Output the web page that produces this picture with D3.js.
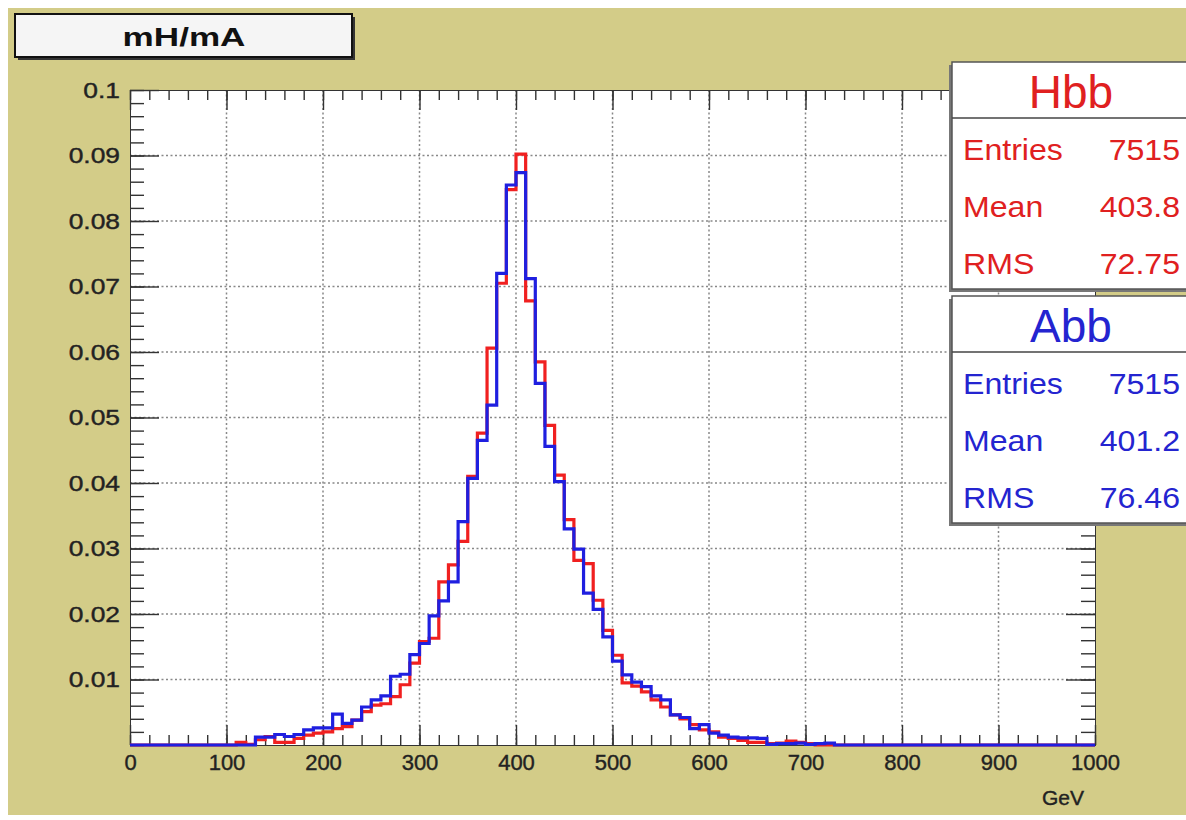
<html>
  <head>
    <script src="https://d3js.org/d3.v7.min.js"></script>
    <style>
      body { margin: 0; background: #fff; }
      text { font-family: "Liberation Sans", Arial, sans-serif; }
    </style>
  </head>
  <body>
    <div id="dataviz"></div>
    <script>
      // 10 GeV bins, lower edges 0..990
      var binEdges = d3.range(0, 1000, 10);

      // Hbb (red), bins 0-10 ... 990-1000
      var hbbValues = [
        0, 0, 0, 0, 0, 0, 0, 0, 0, 0,
        0, 0.0004, 0.0001, 0.0008, 0.0013, 0.0004, 0.0004, 0.0010, 0.0015, 0.0018,
        0.0020, 0.0025, 0.0028, 0.0038, 0.0051, 0.0061, 0.0063, 0.0074, 0.0092, 0.0125,
        0.0158, 0.0163, 0.0249, 0.0275, 0.0311, 0.0410, 0.0476, 0.0606, 0.0705, 0.0848,
        0.0902, 0.0678, 0.0585, 0.0488, 0.0412, 0.0344, 0.0282, 0.0277, 0.0221, 0.0175,
        0.0137, 0.0095, 0.0090, 0.0081, 0.0069, 0.0058, 0.0046, 0.0040, 0.0031, 0.0023,
        0.0020, 0.0012, 0.0010, 0.0007, 0.0004, 0.0004, 0.0002, 0.0003, 0.0006, 0.0004,
        0.0002, 0, 0, 0, 0, 0, 0, 0, 0, 0,
        0, 0, 0, 0, 0, 0, 0, 0, 0, 0,
        0, 0, 0, 0, 0, 0, 0, 0, 0, 0
      ];

      // Abb (blue)
      var abbValues = [
        0, 0, 0, 0, 0, 0, 0, 0, 0, 0,
        0, 0, 0, 0.0012, 0.0012, 0.0016, 0.0013, 0.0016, 0.0023, 0.0026,
        0.0026, 0.0047, 0.0033, 0.0038, 0.0058, 0.0069, 0.0075, 0.0105, 0.0108, 0.0138,
        0.0155, 0.0197, 0.0220, 0.0249, 0.0341, 0.0407, 0.0465, 0.0519, 0.0720, 0.0855,
        0.0874, 0.0712, 0.0552, 0.0456, 0.0402, 0.0330, 0.0299, 0.0232, 0.0207, 0.0165,
        0.0128, 0.0107, 0.0096, 0.0089, 0.0075, 0.0069, 0.0046, 0.0042, 0.0025, 0.0031,
        0.0018, 0.0015, 0.0012, 0.0011, 0.0011, 0.0010, 0.0001, 0.0002, 0.0002, 0.0003,
        0.0001, 0.0002, 0.0003, 0, 0, 0, 0, 0, 0, 0,
        0, 0, 0, 0, 0, 0, 0, 0, 0, 0,
        0, 0, 0, 0, 0, 0, 0, 0, 0, 0
      ];

      var xTicks = [0, 100, 200, 300, 400, 500, 600, 700, 800, 900, 1000];
      var xTickLabels = ["0", "100", "200", "300", "400", "500", "600", "700", "800", "900", "1000"];
      var yTicks = [0.01, 0.02, 0.03, 0.04, 0.05, 0.06, 0.07, 0.08, 0.09, 0.1];
      var yTickLabels = ["0.01", "0.02", "0.03", "0.04", "0.05", "0.06", "0.07", "0.08", "0.09", "0.1"];

      var statNames = ["Entries", "Mean", "RMS"];
      var hbbStats = ["7515", "403.8", "72.75"];
      var abbStats = ["7515", "401.2", "76.46"];

      var W = 1186, H = 820;
      var margin = {top: 90, right: 91, bottom: 75, left: 130};
      var width = W - margin.left - margin.right,
          height = H - margin.top - margin.bottom;

      var svg = d3.select("#dataviz")
        .append("svg")
          .attr("width", W)
          .attr("height", H);

      // canvas background
      svg.append("rect")
        .attr("x", 8).attr("y", 8)
        .attr("width", W - 8).attr("height", H - 13)
        .attr("fill", "#d3cc88");

      var x = d3.scaleLinear().domain([0, 1000]).range([0, width]);
      var y = d3.scaleLinear().domain([0, 0.1]).range([height, 0]);

      var g = svg.append("g")
        .attr("transform", "translate(" + margin.left + "," + margin.top + ")");

      g.append("rect")
        .attr("width", width).attr("height", height)
        .attr("fill", "#fff");

      // grid
      g.append("g").selectAll("line")
        .data(xTicks.slice(1, -1))
        .enter().append("line")
          .attr("x1", d => x(d)).attr("x2", d => x(d))
          .attr("y1", 0).attr("y2", height)
          .attr("stroke", "#888").attr("stroke-width", 1.5)
          .attr("stroke-dasharray", "2,2.5");
      g.append("g").selectAll("line")
        .data(yTicks.slice(0, -1))
        .enter().append("line")
          .attr("x1", 0).attr("x2", width)
          .attr("y1", d => y(d)).attr("y2", d => y(d))
          .attr("stroke", "#888").attr("stroke-width", 1.5)
          .attr("stroke-dasharray", "2,2.5");

      function styleAxis(sel) {
        sel.select(".domain").attr("stroke", "#333");
        sel.selectAll(".tick line").attr("stroke", "#333").attr("stroke-width", 1.4);
        sel.selectAll("text")
          .attr("fill", "#222")
          .attr("stroke", "#222")
          .attr("stroke-width", 0.4)
          .style("font-size", "22px");
      }

      var xMinor = d3.range(0, 1001, 20);
      var yMinor = d3.range(0, 0.1001, 0.002);

      // bottom axis
      g.append("g")
        .attr("transform", "translate(0," + height + ")")
        .call(d3.axisBottom(x).tickValues(xMinor).tickSize(-10).tickFormat(""))
        .call(styleAxis);
      g.append("g")
        .attr("transform", "translate(0," + height + ")")
        .call(d3.axisBottom(x).tickValues(xTicks).tickSize(-20).tickPadding(9)
          .tickFormat((d, i) => xTickLabels[i]))
        .call(styleAxis);

      // top axis
      g.append("g")
        .call(d3.axisTop(x).tickValues(xMinor).tickSize(-10).tickFormat(""))
        .call(styleAxis);
      g.append("g")
        .call(d3.axisTop(x).tickValues(xTicks).tickSize(-20).tickFormat(""))
        .call(styleAxis);

      // left axis
      g.append("g")
        .call(d3.axisLeft(y).tickValues(yMinor).tickSize(-14).tickFormat(""))
        .call(styleAxis);
      g.append("g")
        .call(d3.axisLeft(y).tickValues(yTicks).tickSize(-29).tickPadding(10)
          .tickFormat((d, i) => yTickLabels[i]))
        .call(styleAxis)
        .selectAll("text")
          .attr("transform", "translate(-10,0) scale(1.2,1) translate(10,0)");

      // right axis
      g.append("g")
        .attr("transform", "translate(" + width + ",0)")
        .call(d3.axisRight(y).tickValues(yMinor).tickSize(-14).tickFormat(""))
        .call(styleAxis);
      g.append("g")
        .attr("transform", "translate(" + width + ",0)")
        .call(d3.axisRight(y).tickValues(yTicks).tickSize(-29).tickFormat(""))
        .call(styleAxis);

      // histograms
      function histPoints(values) {
        var pts = [[0, 0]];
        values.forEach((v, i) => pts.push([binEdges[i], v]));
        pts.push([1000, values[values.length - 1]]);
        pts.push([1000, 0]);
        return pts;
      }
      var line = d3.line()
        .x(d => x(d[0]))
        .y(d => y(d[1]))
        .curve(d3.curveStepAfter);

      g.append("path")
        .datum(histPoints(hbbValues))
        .attr("fill", "none")
        .attr("stroke", "#f02020")
        .attr("stroke-width", 3.2)
        .attr("d", line);
      g.append("path")
        .datum(histPoints(abbValues))
        .attr("fill", "none")
        .attr("stroke", "#1f1fe0")
        .attr("stroke-width", 3.2)
        .attr("d", line);

      // axis title
      svg.append("text")
        .attr("x", 1084).attr("y", 805)
        .attr("text-anchor", "end")
        .attr("fill", "#222")
        .attr("stroke", "#222").attr("stroke-width", 0.4)
        .style("font-size", "21px")
        .text("GeV");

      // title box
      svg.append("rect")
        .attr("x", 18).attr("y", 17)
        .attr("width", 337).attr("height", 43)
        .attr("fill", "#333");
      svg.append("rect")
        .attr("x", 15).attr("y", 14)
        .attr("width", 337).attr("height", 43)
        .attr("fill", "#f5f5f5")
        .attr("stroke", "#111").attr("stroke-width", 2);
      svg.append("text")
        .attr("x", 0).attr("y", 0)
        .attr("transform", "translate(184,46) scale(1.35,1)")
        .attr("text-anchor", "middle")
        .attr("font-weight", "bold")
        .attr("fill", "#111")
        .style("font-size", "26px")
        .text("mH/mA");

      // stats boxes
      function statsBox(top, name, values, color) {
        var bx = 952, bw = 240, bh = 227;
        svg.append("rect")
          .attr("x", bx - 3).attr("y", top + 3)
          .attr("width", bw).attr("height", bh)
          .attr("fill", "#777");
        svg.append("rect")
          .attr("x", bx).attr("y", top)
          .attr("width", bw).attr("height", bh)
          .attr("fill", "#fff")
          .attr("stroke", "#555").attr("stroke-width", 1.5);
        svg.append("line")
          .attr("x1", bx).attr("x2", bx + bw)
          .attr("y1", top + 56).attr("y2", top + 56)
          .attr("stroke", "#444").attr("stroke-width", 1.5);
        svg.append("text")
          .attr("x", 1071).attr("y", top + 46)
          .attr("text-anchor", "middle")
          .attr("fill", color)
          .style("font-size", "46px")
          .text(name);
        statNames.forEach((s, i) => {
          svg.append("text")
            .attr("x", 0).attr("y", 0)
            .attr("transform", "translate(963," + (top + 98 + i * 57) + ") scale(1.07,1)")
            .attr("fill", color)
            .style("font-size", "30px")
            .text(s);
          svg.append("text")
            .attr("x", 0).attr("y", 0)
            .attr("transform", "translate(1180," + (top + 98 + i * 57) + ") scale(1.07,1)")
            .attr("text-anchor", "end")
            .attr("fill", color)
            .style("font-size", "30px")
            .text(values[i]);
        });
      }
      statsBox(62, "Hbb", hbbStats, "#e02020");
      statsBox(296, "Abb", abbStats, "#2424d0");
    </script>
  </body>
</html>
